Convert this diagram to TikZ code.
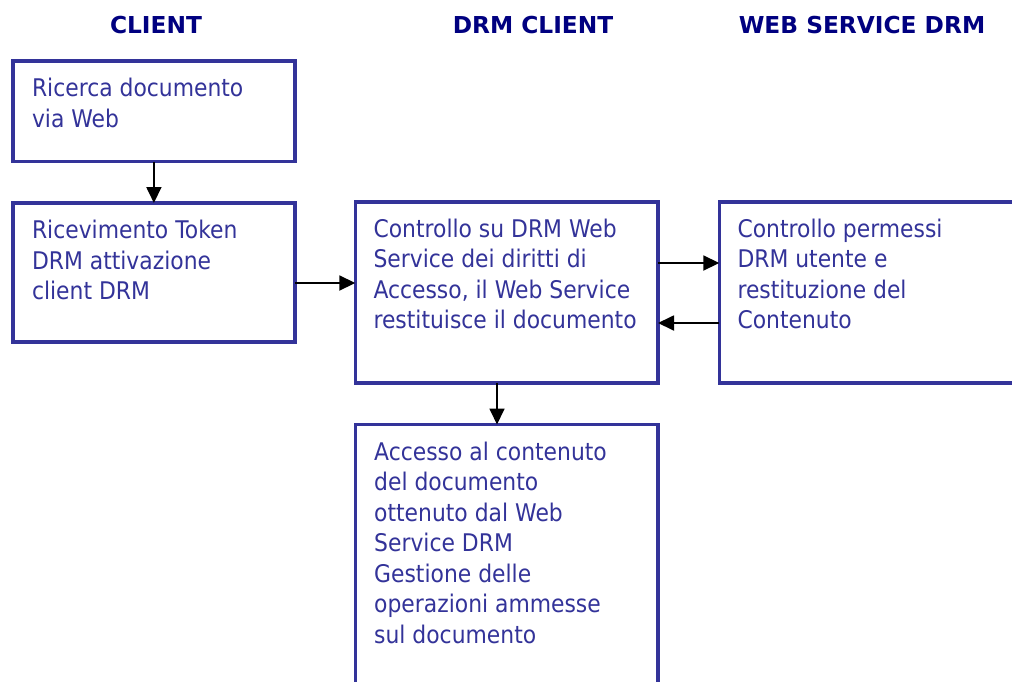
\documentclass[tikz,border=0pt]{standalone}
\usepackage{fontspec}
\setmainfont[FakeStretch=0.9]{DejaVu Sans}
\newfontfamily\hdrfont{DejaVu Sans Bold}
\usetikzlibrary{arrows.meta,calc}
\definecolor{boxblue}{RGB}{51,51,153}
\definecolor{navy}{RGB}{0,0,128}
\begin{document}
\begin{tikzpicture}[x=1pt,y=-1pt,
  boxst/.style={draw=boxblue,line width=3.5pt,inner sep=0pt,outer sep=0pt},
  txt/.style={anchor=north west,inner sep=0pt,align=left,text=boxblue,
    font=\fontsize{24.3pt}{30.5pt}\selectfont},
  hdr/.style={anchor=base,inner sep=0pt,text=navy,font=\hdrfont\fontsize{23.3pt}{27pt}\selectfont},
  arr/.style={draw=black,line width=1.8pt,-{Triangle[length=16pt 0,width=15pt 0]}}]
\clip (0,0) rectangle (1012,681);
\fill[white] (0,0) rectangle (1012,681);
% headers
\node[hdr] (h1) at (156,33.3) {CLIENT};
\node[hdr] (h2) at (533,33.3) {DRM CLIENT};
\node[hdr] (h3) at (862,33.3) {WEB SERVICE DRM};
% boxes
\node[boxst,minimum width=282.2pt,minimum height=100.5pt] (b1) at (153.9,111.25) {};
\node[boxst,minimum width=282.2pt,minimum height=139pt] (b2) at (153.9,272.5) {};
\node[boxst,minimum width=302.7pt,minimum height=181pt] (b3) at (506.65,292.5) {};
\node[boxst,minimum width=320.7pt,minimum height=181pt] (b4) at (879.65,292.5) {};
\node[boxst,minimum width=302.7pt,minimum height=295.5pt] (b5) at (506.65,572.25) {};
% texts
\node[txt] (t1) at ($(b1.north west)+(19,15.5)$) {\rule{0pt}{20pt}Ricerca documento\\via Web};
\node[txt] (t2) at ($(b2.north west)+(19,15.5)$) {\rule{0pt}{20pt}Ricevimento Token\\DRM attivazione\\client DRM};
\node[txt] (t3) at ($(b3.north west)+(18,15)$) {\rule{0pt}{20pt}Controllo su DRM Web\\Service dei diritti di\\Accesso, il Web Service\\restituisce il documento};
\node[txt] (t4) at ($(b4.north west)+(18,15)$) {\rule{0pt}{20pt}Controllo permessi\\DRM utente e\\restituzione del\\Contenuto};
\node[txt] (t5) at ($(b5.north west)+(18.7,15.5)$) {\rule{0pt}{20pt}Accesso al contenuto\\del documento\\ottenuto dal Web\\Service DRM\\Gestione delle\\operazioni ammesse\\sul documento};
% connectors
\draw[arr] (b1.south) -- (b2.north);
\draw[arr] ($(b2.east)+(0,10.5)$) -- ($(b3.west)+(0,-9.5)$);
\draw[arr] ($(b3.east)+(0,-29.5)$) -- ($(b4.west)+(0,-29.5)$);
\draw[arr] ($(b4.west)+(0,30.5)$) -- ($(b3.east)+(0,30.5)$);
\draw[arr] ($(b3.south)+(-9.65,0)$) -- ($(b5.north)+(-9.65,0)$);
\end{tikzpicture}
\end{document}
